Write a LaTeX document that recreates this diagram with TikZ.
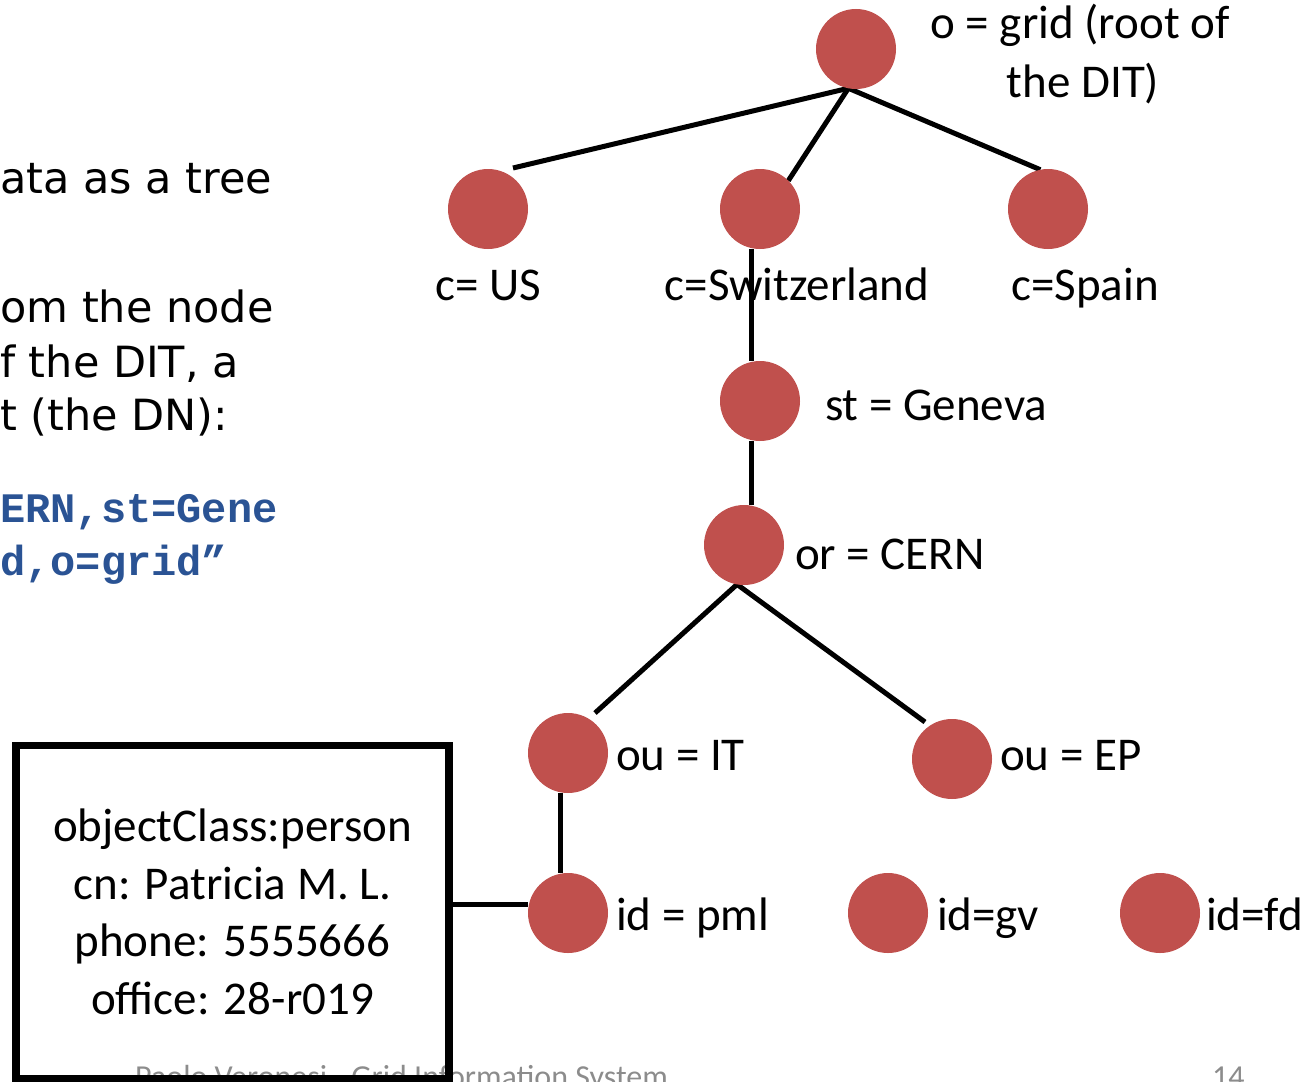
\documentclass[tikz,border=0pt]{standalone}
\usepackage{fontspec}
\setmainfont{Carlito}
\newfontfamily\handfont{DejaVu Sans}
\newfontfamily\codefont{Liberation Mono}
\usetikzlibrary{calc,backgrounds}
\definecolor{entry}{HTML}{C0504D}
\definecolor{dncode}{HTML}{2A5394}
\definecolor{footgray}{HTML}{8C8C8C}

\begin{document}
\begin{tikzpicture}[x=1pt,y=-1pt,
  entrynode/.style={circle,fill=entry,minimum size=80pt,inner sep=0pt,outer sep=0pt},
  edge/.style={line width=5pt},
  lbl/.style={font=\fontsize{47}{57.5}\selectfont,inner sep=0pt,outer sep=0pt},
  hand/.style={font=\handfont\fontsize{43}{52}\selectfont,inner sep=0pt,anchor=base west},
  code/.style={font=\codefont\bfseries\fontsize{42}{52}\selectfont,text=dncode,inner sep=0pt,anchor=base west},
  foot/.style={font=\fontsize{32}{38}\selectfont,text=footgray,inner sep=0pt,anchor=base west}]
\useasboundingbox (0,0) rectangle (1316,1081);
\clip (0,0) rectangle (1316,1081);

% footer, partly hidden under the attribute box
\node[foot] (footer) at (135,1087) {Paolo Veronesi - Grid Information System};
\node[foot] (pagenum) at (1212,1087) {14};

% directory information tree entries
\node[entrynode] (root) at (856,49) {};
\node[entrynode] (us)   at (488,209) {};
\node[entrynode] (ch)   at (760,209) {};
\node[entrynode] (es)   at (1048,209) {};
\node[entrynode] (ge)   at (760,401) {};
\node[entrynode] (cern) at (744,545) {};
\node[entrynode] (it)   at (568,753) {};
\node[entrynode] (ep)   at (952,759) {};
\node[entrynode] (pml)  at (568,913) {};
\node[entrynode] (gv)   at (888,913) {};
\node[entrynode] (fd)   at (1160,913) {};

% entry labels
\node[lbl,anchor=base] (rootlbl)  at (1080,38) {o = grid (root of};
\node[lbl,anchor=base] (rootlbl2) at (1083,97) {the DIT)};
\node[lbl,anchor=base] (uslbl) at (488,300) {c= US};
\node[lbl,anchor=base] (chlbl) at (797,300) {c=Switzerland};
\node[lbl,anchor=base] (eslbl) at (1085,300) {c=Spain};
\node[lbl,anchor=base west] (gelbl) at (825,420) {st = Geneva};
\node[lbl,anchor=base west] (cernlbl) at (795,569) {or = CERN};
\node[lbl,anchor=base west] (itlbl) at (616,770) {ou = IT};
\node[lbl,anchor=base west] (eplbl) at (1000,770) {ou = EP};
\node[lbl,anchor=base west] (pmllbl) at (616,930) {id = pml};
\node[lbl,anchor=base west] (gvlbl) at (937,930) {id=gv};
\node[lbl,anchor=base west] (fdlbl) at (1206,930) {id=fd};

% tree edges
\begin{scope}[on background layer]
  \draw[edge] (root.259) -- ($(us.center)+(25,-41)$);
  \draw[edge] (root.259) -- (ch.45);
  \draw[edge] (root.259) -- (es.101);
  \draw[edge] ([xshift=-9pt]ch.south) -- ([xshift=-9pt]ge.north);
  \draw[edge] ([xshift=-9pt]ge.south) -- ([xshift=7pt]cern.north);
  \draw[edge] (cern.260) -- ($(it.center)+(27,-40)$);
  \draw[edge] (cern.260) -- ($(ep.center)+(-27,-37)$);
  \draw[edge] ([xshift=-8pt]it.south) -- ([xshift=-8pt]pml.north);
\end{scope}

% attributes of the selected entry
\node[draw,line width=7.5pt,outer sep=0pt,minimum width=433pt,minimum height=333pt,
      anchor=north west,align=center,lbl] (card) at (16,745.5)
  {objectClass:person\\cn: Patricia M. L.\\phone: 5555666\\office: 28-r019};
\draw[edge] ([yshift=9pt]pml.west) -- ([yshift=9pt]pml.west -| card.east);

% slide text
\node[hand] (t1) at (0,193) {ata as a tree};
\node[hand] (t2) at (0,322) {om the node};
\node[hand] (t3) at (0,377) {f the DIT, a};
\node[hand] (t4) at (0,430) {t (the DN):};
\node[code] (c1) at (0,522) {ERN,st=Gene};
\node[code] (c2) at (0,575) {d,o=grid”};
\end{tikzpicture}
\end{document}
